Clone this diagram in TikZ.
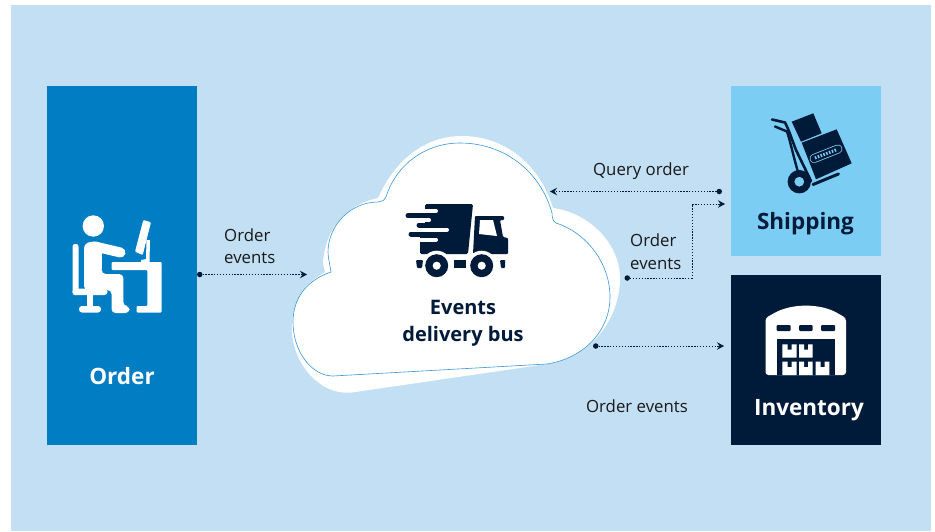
\documentclass[tikz,border=0pt]{standalone}
\usepackage{fontspec}
\setmainfont{Open Sans}
\usepackage{xcolor}
\usetikzlibrary{arrows.meta}
\definecolor{pale}{HTML}{C2DFF3}
\definecolor{ordblue}{HTML}{007DC3}
\definecolor{shipblue}{HTML}{7BCDF3}
\definecolor{navy}{HTML}{001A3A}
\definecolor{rim}{HTML}{3A97D6}
\tikzset{
  panel/.style={minimum width=150pt,inner sep=0pt,outer sep=0pt},
  title/.style={font=\fontsize{22.5}{27}\selectfont\bfseries,align=center,inner sep=0pt},
  lab/.style={font=\fontsize{16.8}{22.5}\selectfont,text=black!90,align=left,inner sep=0pt},
  flow/.style={navy,line width=0.9pt,dash pattern=on 1.3pt off 1.6pt,
    {Circle[length=5.5pt,line width=0pt]}-{Stealth[length=7pt,width=7.5pt,inset=2.5pt]}}
}
\begin{document}
\begin{tikzpicture}[x=1pt,y=-1pt]
  \useasboundingbox (0,0) rectangle (935,531);
  \fill[pale] (11,5) rectangle (931,531);

  \node[panel,fill=ordblue,minimum height=359pt] at (122,265.5) (ord) {};
  \node[panel,fill=shipblue,minimum height=170pt] at (806,171) (ship) {};
  \node[panel,fill=navy,minimum height=170pt] at ([yshift=-189pt]ship) (inv) {};

  % cloud, white backing then outlined front
  \fill[white] (378,198) .. controls (395,160) and (425,136) .. (462,136)
    .. controls (505,136) and (540,165) .. (553,208)
    .. controls (590,213) and (621,245) .. (620,280)
    .. controls (619,320) and (590,358) .. (547,364)
    -- (352,392.5) .. controls (318,396) and (290,360) .. (292,325)
    .. controls (293,298) and (307,282) .. (325,272)
    -- (323,263) .. controls (325,230) and (345,205) .. (378,198) -- cycle;
  \draw[rim,fill=white,line width=0.6pt] (333,376) -- (547,364)
    .. controls (585,358) and (610,330) .. (610,297)
    .. controls (610,262) and (585,232) .. (556,223)
    .. controls (553,222) and (552,217) .. (552,213)
    .. controls (540,170) and (503,143) .. (460,143)
    .. controls (425,143) and (396,165) .. (386,197)
    .. controls (385,200) and (383,201) .. (378,202)
    .. controls (350,202) and (328,226) .. (328,252)
    .. controls (328,258) and (330,265) .. (331,272)
    .. controls (307,280) and (293,298) .. (293,322)
    .. controls (293,352) and (312,376) .. (333,376) -- cycle;

  % truck
  \fill[navy,rounded corners=1.5pt] (425,204) -- (473,204) -- (468,254) -- (420,254) -- (420,235) -- (425,235) -- cycle;
  \draw[navy,line width=5pt,line cap=round] (408,215.7) -- (430,215.7);
  \draw[navy,line width=5pt,line cap=round] (419,225) -- (430,225);
  \draw[navy,line width=5pt,line cap=round] (411,234) -- (430,234);
  \draw[white,line width=4pt,line cap=round] (420,211) -- (436,211);
  \draw[white,line width=4pt,line cap=round] (420,220.3) -- (429,220.3);
  \draw[white,line width=4pt,line cap=round] (420,229.5) -- (447,229.5);
  \draw[white,line width=4pt,line cap=round] (415,239.5) -- (436,239.5);
  \fill[navy,rounded corners=1pt] (475,216) -- (504,216) -- (504,220) -- (500,220) -- (503,237) -- (508,238) -- (508,254) -- (473,254) -- cycle;
  \fill[white] (480,220) -- (493,220) -- (497,236) -- (479,234) -- cycle;
  \fill[white] (436.7,265.7) circle (15);
  \fill[white] (481.7,265.7) circle (15);
  \fill[navy,even odd rule] (436.7,265.7) circle (11.5) (436.7,265.7) circle (4.2);
  \fill[navy,even odd rule] (481.7,265.7) circle (11.5) (481.7,265.7) circle (4.2);
  \fill[navy] (454,260) rectangle (466,268.3);
  \fill[navy,rounded corners=1pt] (416,260) -- (423,260) -- (422,268) -- (417,268) -- cycle;
  \fill[navy,rounded corners=1pt] (500,260) -- (505.3,260) -- (505,268) -- (501,268) -- cycle;

  % person at desk
  \fill[white] (93.3,226) circle (10.7);
  \fill[white,rounded corners=2.5pt] (72.5,244) rectangle (78.5,295);
  \fill[white,rounded corners=3pt] (72.5,288.5) rectangle (107.5,295);
  \fill[white] (87,295) rectangle (93,308);
  \fill[white,rounded corners=3pt] (79,306) rectangle (101,312.5);
  \draw[white,line width=10pt,line cap=round] (95,246.5) -- (120.5,252.5);
  \fill[white,rounded corners=4pt] (84,244) -- (93,241) -- (102,243) -- (101.7,274) -- (123.3,274)
    -- (123.3,306) -- (129.5,306) -- (129.5,313) -- (111.5,313)
    -- (111.5,290) -- (84,290) -- cycle;
  \fill[white,rounded corners=1pt] (111.7,262) -- (161.7,262) -- (161.7,312.5) -- (136.7,312.5)
    -- (136.7,306) -- (147.3,306) -- (147.3,270) -- (111.7,270) -- cycle;
  \fill[white,rounded corners=1pt] (143.3,220) -- (151,222.3) -- (142.7,255) -- (135,251.7) -- cycle;
  \fill[white] (146.5,240) -- (150,240) -- (149.5,262) -- (141,262) -- (141,260) -- (146,259) -- cycle;

  % hand truck with boxes
  \fill[navy] (801.7,142.7) -- (836.7,129.3) -- (851.7,163.3) -- (816,179.3) -- cycle;
  \fill[navy] (791.7,121.7) -- (813.3,113.3) -- (821.7,133.3) -- (801,141.7) -- cycle;
  \draw[navy,line width=2.6pt,line cap=round] (772,119.5) -- (785,122.5) .. controls (789,130) and (792,140) .. (796,150) -- (811,181);
  \draw[navy,line width=2.4pt,line cap=round] (775,126.5) -- (787,131.5) .. controls (790,140) and (793,155) .. (798,172);
  \draw[navy,line width=3pt,line cap=round] (813,184.5) -- (838.5,174);
  \fill[navy,even odd rule] (799.3,181.7) circle (11.7) (799.3,181.7) circle (5);
  \draw[shipblue,line width=9pt,line cap=round] (814,158.5) -- (838,149);
  \draw[navy,line width=7.4pt,line cap=round] (814,158.5) -- (838,149);
  \draw[shipblue,line width=3pt,dash pattern=on 1.5pt off 1.5pt] (815,158) -- (837,149.5);

  % warehouse
  \fill[white,rounded corners=3pt] (765.5,375) -- (765.5,318) -- (776.7,311.7) .. controls (795,304) and (817,304) .. (835,311.7) -- (846,318) -- (846,375) -- cycle;
  \fill[navy,rounded corners=1pt] (776.7,325) rectangle (790.7,331);
  \fill[navy,rounded corners=1pt] (799,325) rectangle (812.7,331);
  \fill[navy,rounded corners=1pt] (821,325) rectangle (835,331);
  \fill[navy] (776.7,339) rectangle (835,375);
  \fill[white] (782.3,344.3) -- (787.5,344.3) -- (787.5,349.5) -- (791.5,349.5) -- (791.5,344.3) -- (796.7,344.3) -- (796.7,357.7) -- (782.3,357.7) -- cycle;
  \fill[white] (799,344.3) -- (804,344.3) -- (804,349.5) -- (808,349.5) -- (808,344.3) -- (812.7,344.3) -- (812.7,357.7) -- (799,357.7) -- cycle;
  \fill[white] (782.3,361.7) -- (787.5,361.7) -- (787.5,367) -- (791.5,367) -- (791.5,361.7) -- (796.7,361.7) -- (796.7,375) -- (782.3,375) -- cycle;
  \fill[white] (799,361.7) -- (804,361.7) -- (804,367) -- (808,367) -- (808,361.7) -- (812.7,361.7) -- (812.7,375) -- (799,375) -- cycle;
  \fill[white] (815.7,361.7) -- (820.5,361.7) -- (820.5,367) -- (824.5,367) -- (824.5,361.7) -- (829.3,361.7) -- (829.3,375) -- (815.7,375) -- cycle;

  \node[title,text=white,anchor=base] at (122,384.5) (ordname) {Order};
  \node[title,text=navy,anchor=base] at (805.5,229) (shipname) {Shipping};
  \node[title,text=white,anchor=base] at (809,415) (invname) {Inventory};
  \node[title,text=navy,font=\fontsize{20}{27}\selectfont\bfseries] at (463,323.5) (bus) {Events\\delivery bus};

  \node[lab,anchor=west] at (224,246) (lorder) {Order\\events};
  \node[lab,anchor=base] at (641,175.5) (lquery) {Query order};
  \node[lab,anchor=west] at (630,251.5) (lship) {Order\\events};
  \node[lab,anchor=base] at (637,412.5) (linv) {Order events};

  \coordinate (busin) at (307,274.5);
  \coordinate (busq) at (550,191.5);
  \coordinate (busa) at (624.5,278);
  \coordinate (busb) at (593,346);
  \coordinate (shipq) at (722,191.5);
  \coordinate (shipe) at (725,204);
  \coordinate (inve) at (724,346);
  \draw[flow] (ord.east |- busin) -- (busin);
  \draw[flow] (shipq) -- (busq);
  \draw[flow] (busa) -- (692,278) -- (692,204) -- (shipe);
  \draw[flow] (busb) -- (inve);
\end{tikzpicture}
\end{document}
